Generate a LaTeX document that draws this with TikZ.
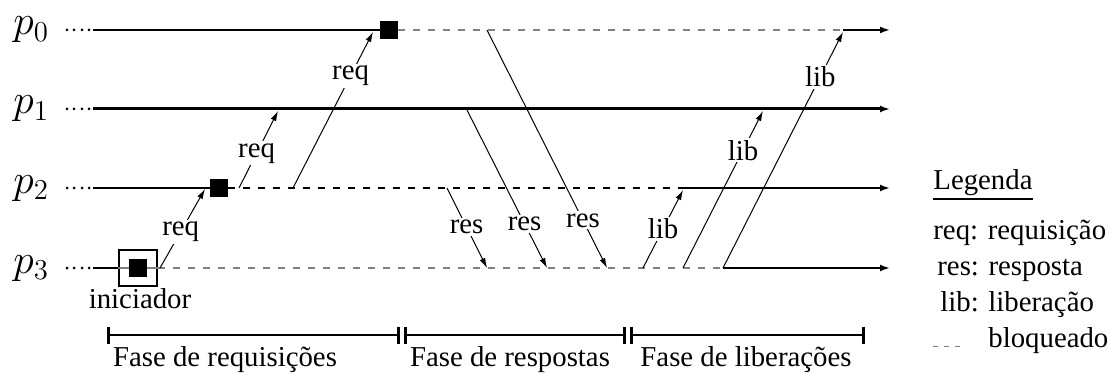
\documentclass[tikz,border=0pt]{standalone}
\usepackage{fontspec}
\setmainfont{Liberation Serif}
\usetikzlibrary{arrows.meta}
\tikzset{
  proc/.style={line width=1pt},
  blk/.style={gray, line width=1pt, dash pattern=on 3.5pt off 4pt},
  blkb/.style={black, line width=0.6pt, dash pattern=on 3.5pt off 4pt},
  msg/.style={line width=0.5pt, -{Latex[length=5pt,width=3pt]}},
  lbl/.style={fill=white, inner sep=1pt},
  sq/.style={fill=black, minimum size=9pt, inner sep=0pt},
  endtip/.style={-{Latex[length=5pt,width=3.5pt]}},
  phase/.style={line width=1.3pt, {Bar[width=8.5pt]}-{Bar[width=8.5pt]}},
  plabel/.style={anchor=base west, inner sep=0pt, font=\fontsize{21}{25}\selectfont},
  legtext/.style={anchor=base west, inner sep=0pt},
}
\begin{document}
\begin{tikzpicture}[x=0.5pt,y=-0.5pt, every node/.append style={font=\fontsize{14.4}{17}\selectfont}]
\useasboundingbox (0,0) rectangle (1109,374);

% process names
\node[plabel] (L0) at (13,35) {$p_0$};
\node[plabel] (L1) at (13,114) {$p_1$};
\node[plabel] (L2) at (13,193) {$p_2$};
\node[plabel] (L3) at (13,273) {$p_3$};

% leading dots
\foreach \y in {30,109,188,268}
  \foreach \x in {67,74,82,89}
    \fill (\x,\y) circle[radius=1.5];

% coordinates on process lines
\coordinate (p0s) at (93,30);  \coordinate (p0r) at (843,30);  \coordinate (p0e) at (890,30);
\coordinate (p1s) at (93,109); \coordinate (p1e) at (890,109);
\coordinate (p2s) at (93,188); \coordinate (p2r) at (683,188); \coordinate (p2e) at (890,188);
\coordinate (p3s) at (93,268); \coordinate (p3r) at (723,268); \coordinate (p3e) at (890,268);

% p0
\node[sq] (s0) at (389,30) {};
\draw[proc] (p0s) -- (s0);
\draw[blk] (s0.east) -- (p0r);
\draw[proc,endtip] (p0r) -- (p0e);

% p1
\draw[line width=1.5pt,endtip] (p1s) -- (p1e);

% p2
\node[sq] (s2) at (219,188) {};
\draw[proc] (p2s) -- (s2);
\draw[blkb] (s2.east) -- (p2r);
\draw[proc,endtip] (p2r) -- (p2e);

% p3
\node[sq] (s3) at (138,268) {};
\node[draw, line width=1pt, minimum width=19pt, minimum height=18pt, inner sep=0pt] (b3) at (138,268) {};
\draw[proc] (p3s) -- (b3.west);
\draw[gray, line width=1pt] (b3.west) -- (s3.west) (s3.east) -- (b3.east);
\draw[blk] (b3.east) -- (p3r);
\draw[proc,endtip] (p3r) -- (p3e);
\node (ini) at (140,299) {iniciador};

% request messages
\coordinate (q1a) at (160,268); \coordinate (q1b) at (205,189);
\coordinate (q2a) at (239,188); \coordinate (q2b) at (278,111);
\coordinate (q3a) at (293,188); \coordinate (q3b) at (373,32);
\draw[msg] (q1a) -- node[lbl,pos=0.46] {req} (q1b);
\draw[msg] (q2a) -- node[lbl,pos=0.45] {req} (q2b);
\draw[msg] (q3a) -- node[lbl,pos=0.72] {req} (q3b);

% response messages
\coordinate (r1a) at (447,188); \coordinate (r1b) at (487,268);
\coordinate (r2a) at (467,110); \coordinate (r2b) at (547,268);
\coordinate (r3a) at (487,30);  \coordinate (r3b) at (607,268);
\draw[msg] (r1a) -- node[lbl,pos=0.49] {res} (r1b);
\draw[msg] (r2a) -- node[lbl,pos=0.72] {res} (r2b);
\draw[msg] (r3a) -- node[lbl,pos=0.80] {res} (r3b);

% release messages
\coordinate (l1a) at (643,268); \coordinate (l1b) at (683,190);
\coordinate (l2a) at (683,268); \coordinate (l2b) at (763,111);
\coordinate (l3a) at (723,268); \coordinate (l3b) at (843,32);
\draw[msg] (l1a) -- node[lbl,pos=0.50] {lib} (l1b);
\draw[msg] (l2a) -- node[lbl,pos=0.75] {lib} (l2b);
\draw[msg] (l3a) -- node[lbl,pos=0.81] {lib} (l3b);

% phases
\coordinate (f1a) at (107,335); \coordinate (f1b) at (400,335);
\coordinate (f2a) at (404,335); \coordinate (f2b) at (626,335);
\coordinate (f3a) at (630,335); \coordinate (f3b) at (865,335);
\draw[phase] (f1a) -- (f1b);
\draw[phase] (f2a) -- (f2b);
\draw[phase] (f3a) -- (f3b);
\node[anchor=base] (ph1) at (225,366) {Fase de requisições};
\node[anchor=base] (ph2) at (510,366) {Fase de respostas};
\node[anchor=base] (ph3) at (746,366) {Fase de liberações};

% legend
\node[legtext] (lg) at (933,190) {Legenda};
\draw[line width=0.9pt] ([yshift=-4.5pt]lg.base west) -- ([yshift=-4.5pt]lg.base east);
\node[legtext] (lreq) at (933,240) {req: requisição};
\node[legtext] (lres) at (937,275) {res: resposta};
\node[legtext] (llib) at (940,311) {lib: liberação};
\node[legtext] (lblq) at (988,347) {bloqueado};
\coordinate (d1) at (933,346); \coordinate (d2) at (960,346);
\draw[gray, line width=0.5pt, dash pattern=on 2.5pt off 3pt] (d1) -- (d2);
\end{tikzpicture}
\end{document}
